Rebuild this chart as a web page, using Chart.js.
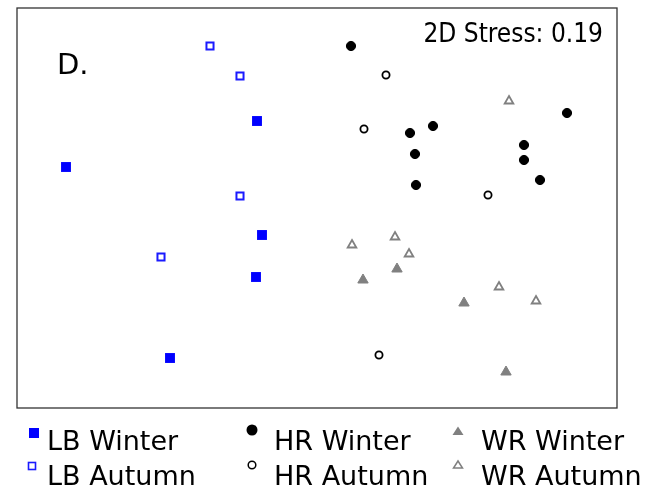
<!DOCTYPE html>
<html>
<head>
<meta charset="utf-8">
<script src="https://cdn.jsdelivr.net/npm/chart.js@4.4.1/dist/chart.umd.min.js"></script>
<style>
  html, body { margin: 0; padding: 0; background: #fff; }
  #wrap { position: relative; width: 646px; height: 496px; overflow: hidden; font-family: 'DejaVu Sans', sans-serif; color: #000; }
  #nmds { position: absolute; left: 0; top: 0; }
  .lbl { position: absolute; white-space: nowrap; line-height: 1; }
  #panel { left: 57px; top: 50px; font-size: 29px; }
  #stress { right: 43px; top: 20px; font-size: 26px; font-family: 'DejaVu Sans Condensed', 'DejaVu Sans', sans-serif; font-stretch: condensed; }
  .leg { font-size: 27px; }
  #marks { position: absolute; left: 0; top: 0; }
</style>
</head>
<body>
<div id="wrap">
  <canvas id="nmds" width="646" height="496"></canvas>
  <div class="lbl" id="panel">D.</div>
  <div class="lbl" id="stress">2D Stress: 0.19</div>

  <svg id="marks" width="646" height="496">
    <rect x="29" y="428" width="10" height="10" fill="#0000ff"/>
    <rect x="28.5" y="462.5" width="7" height="7" fill="#fff" stroke="#1a1aff" stroke-width="1.6"/>
    <circle cx="252" cy="430" r="5.5" fill="#000"/>
    <circle cx="252" cy="465" r="3.8" fill="#fff" stroke="#000" stroke-width="1.5"/>
    <polygon points="452.5,435 463.5,435 458,426.5" fill="#808080"/>
    <polygon points="453.5,468 462.5,468 458,461" fill="#fff" stroke="#808080" stroke-width="1.5"/>
  </svg>
  <div class="lbl leg" style="left:47px; top:427px;">LB Winter</div>
  <div class="lbl leg" style="left:47px; top:462px;">LB Autumn</div>
  <div class="lbl leg" style="left:274px; top:427px;">HR Winter</div>
  <div class="lbl leg" style="left:274px; top:462px;">HR Autumn</div>
  <div class="lbl leg" style="left:481px; top:427px;">WR Winter</div>
  <div class="lbl leg" style="left:481px; top:462px;">WR Autumn</div>
</div>

<script>
// NMDS ordination – axis 1 / axis 2 scores per sample group

const lbWinterX = [-2.51, -0.60, -0.55, -0.61, -1.47];
const lbWinterY = [0.41, 0.87, -0.27, -0.69, -1.50];

const lbAutumnX = [-1.07, -0.77, -0.77, -1.56];
const lbAutumnY = [1.62, 1.32, 0.12, -0.49];

const hrWinterX = [0.34, 0.93, 1.16, 0.98, 0.99, 2.07, 2.07, 2.50, 2.23];
const hrWinterY = [1.62, 0.75, 0.82, 0.54, 0.23, 0.63, 0.48, 0.95, 0.28];

const hrAutumnX = [0.69, 0.47, 1.71, 0.62];
const hrAutumnY = [1.33, 0.79, 0.13, -1.47];

const wrWinterX = [0.46, 0.80, 1.47, 1.89];
const wrWinterY = [-0.72, -0.61, -0.95, -1.64];

const wrAutumnX = [1.92, 0.35, 0.78, 0.92, 1.82, 2.19];
const wrAutumnY = [1.07, -0.37, -0.29, -0.46, -0.79, -0.93];

// turn two arrays into {x,y} points
function pts(xs, ys) {
    return xs.map((x, i) => ({ x: x, y: ys[i] }));
}

// point style for one group
function grp(label, xs, ys, style, r, fill, stroke, bw) {
    return {
        label: label,
        data: pts(xs, ys),
        pointStyle: style,
        pointRadius: r,
        pointHoverRadius: r,
        pointBackgroundColor: fill,
        pointBorderColor: stroke,
        pointBorderWidth: bw,
        backgroundColor: fill,
        borderColor: stroke
    };
}

// frame around the plot area
const frame = {
    id: 'frame',
    afterDraw(chart) {
        const a = chart.chartArea;
        const ctx = chart.ctx;
        ctx.save();
        ctx.strokeStyle = '#333';
        ctx.lineWidth = 1.3;
        ctx.strokeRect(a.left, a.top, a.right - a.left, a.bottom - a.top);
        ctx.restore();
    }
};

const ctx = document.getElementById('nmds').getContext('2d');

new Chart(ctx, {
    type: 'scatter',
    data: {
        datasets: [
            grp('LB Winter', lbWinterX, lbWinterY, 'rect', 7, '#0000ff', '#0000ff', 0),
            grp('LB Autumn', lbAutumnX, lbAutumnY, 'rect', 5, '#fff', '#1a1aff', 2),
            grp('HR Winter', hrWinterX, hrWinterY, 'circle', 4.6, '#000', '#000', 1),
            grp('HR Autumn', hrAutumnX, hrAutumnY, 'circle', 3.6, '#fff', '#000', 1.8),
            grp('WR Winter', wrWinterX, wrWinterY, 'triangle', 6, '#808080', '#808080', 1),
            grp('WR Autumn', wrAutumnX, wrAutumnY, 'triangle', 5, '#fff', '#808080', 1.8)
        ]
    },
    options: {
        responsive: false,
        animation: false,
        layout: { padding: { left: 17, top: 8, right: 29, bottom: 88 } },
        plugins: { legend: { display: false }, tooltip: { enabled: false } },
        scales: {
            x: { type: 'linear', min: -3, max: 3, display: false },
            y: { type: 'linear', min: -2, max: 2, display: false }
        }
    },
    plugins: [frame]
});
</script>
</body>
</html>
